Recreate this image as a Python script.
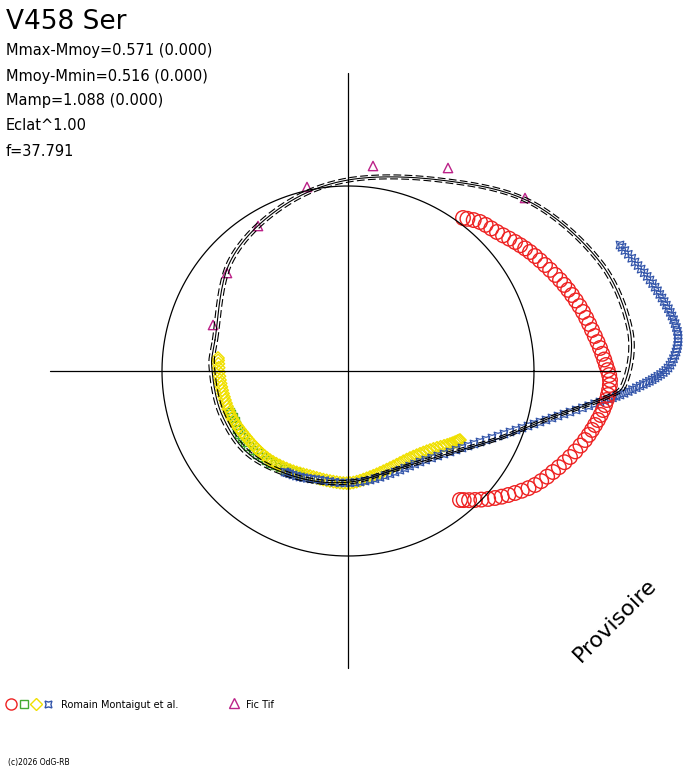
import numpy as np, pandas as pd, matplotlib
matplotlib.use("Agg")
import matplotlib.pyplot as plt, seaborn as sns

sns.set_style("white")
plt.rcParams['font.family'] = ['DejaVu Sans']
plt.rcParams['text.color'] = 'black'

red_x = [463,480,497,515,530,545,560,572,583,592,600,606,610,608,603,595,585,570,553,535,515,495,475,460]
red_y = [218,222,232,242,252,265,280,295,312,330,348,365,380,395,410,425,440,457,472,485,493,498,500,500]
blue_x = [620,635,650,662,672,678,676,668,655,640,620,600,570,540,510,480,450,420,395,370,345,320,300,285]
blue_y = [245,262,280,298,316,335,352,368,378,386,395,402,412,422,432,442,452,462,472,480,483,480,477,472]
yel_x = [218,220,225,232,242,255,270,290,310,330,350,370,390,410,430,450,460]
yel_y = [358,380,400,418,432,447,460,470,476,481,483,477,468,458,450,444,440]
grn_x = [230,236,245,262,280,300]
grn_y = [412,425,442,457,467,474]
tri_x = [213,227,258,307,373,448,525]
tri_y = [325,273,226,187,166,168,198]
fit_x = [215,230,280,348,440,530,600,630,625,605,550,500,450,400,350,300,250,222,212]
fit_y = [340,262,208,180,180,202,262,330,382,398,418,438,453,468,482,478,455,415,370]

def densify(xs, ys, n=20, closed=False):
    P = np.column_stack([xs, ys]).astype(float)
    if closed:
        P = np.vstack([P[-1], P, P[0], P[1]])
    else:
        P = np.vstack([P[0], P, P[-1]])
    out = []
    for i in range(1, len(P)-2):
        p0, p1, p2, p3 = P[i-1], P[i], P[i+1], P[i+2]
        for t in np.linspace(0, 1, n, endpoint=False):
            out.append(0.5*((2*p1)+(-p0+p2)*t+(2*p0-5*p1+4*p2-p3)*t*t+(-p0+3*p1-3*p2+p3)*t**3))
    out.append(out[0] if closed else P[-2])
    return np.array(out)

fig = plt.figure(figsize=(6.88, 7.68), dpi=100)
ax = fig.add_axes([0, 0, 1, 1])
ax.set_xlim(0, 688); ax.set_ylim(768, 0); ax.axis('off')

cx, cy = 348, 371
ax.plot([50, 620], [cy, cy], color='black', lw=0.9)
ax.plot([cx, cx], [73, 668], color='black', lw=0.9)
th = np.linspace(0, 2*np.pi, 400)
ax.plot(cx + 186*np.cos(th), cy + 185*np.sin(th), color='black', lw=0.9)

F = densify(fit_x, fit_y, closed=True)
fc = np.array([420, 330])
for s, ls in [(1.0, '-'), (1.013, (0, (7, 3))), (0.987, (0, (7, 3)))]:
    G = fc + (F - fc)*s
    ax.plot(G[:, 0], G[:, 1], color='black', lw=0.8, linestyle=ls)

def sc(x, y, m, c, s):
    sns.scatterplot(x=x, y=y, marker=m, s=s, facecolors='none', edgecolor=c, linewidth=1.0, ax=ax, legend=False)

dg = densify(grn_x, grn_y, n=4)
sc(dg[:, 0], dg[:, 1], 's', '#44aa33', 40)
dy = densify(yel_x, yel_y, n=6)
sc(dy[:, 0], dy[:, 1], 'D', '#f0e000', 40)
db = densify(blue_x, blue_y, n=5)
sns.scatterplot(x=db[:, 0], y=db[:, 1], marker=(4, 1, 45), s=60, color='none', edgecolor='#3355aa', linewidth=0.9, ax=ax, legend=False)
dr = densify(red_x, red_y, n=3)
sc(dr[:, 0], dr[:, 1], 'o', '#ee2222', 110)
sc(tri_x, tri_y, '^', '#bb2288', 45)

ax.text(6, 22, "V458 Ser", fontsize=19, va='center')
for i, t in enumerate(["Mmax-Mmoy=0.571 (0.000)", "Mmoy-Mmin=0.516 (0.000)",
                       "Mamp=1.088 (0.000)", "Eclat^1.00", "f=37.791"]):
    ax.text(6, 51 + 25*i, t, fontsize=10.5, va='center')
ax.text(615, 620, "Provisoire", fontsize=16, rotation=45, ha='center', va='center')

ax.plot([11], [704], 'o', ms=8, mfc='none', mec='#ee2222')
ax.plot([24], [704], 's', ms=6, mfc='none', mec='#44aa33')
ax.plot([36], [704], 'D', ms=6, mfc='none', mec='#f0e000')
ax.plot([48], [704], marker=(4, 1, 45), ms=7, mfc='none', mec='#3355aa', ls='none')
ax.text(61, 705, "Romain Montaigut et al.", fontsize=7, va='center')
ax.plot([234], [703], '^', ms=7, mfc='none', mec='#bb2288')
ax.text(246, 705, "Fic Tif", fontsize=7, va='center')
ax.text(8, 763, "(c)2026 OdG-RB", fontsize=5.5, va='center')

fig.savefig("out.png", dpi=100)
